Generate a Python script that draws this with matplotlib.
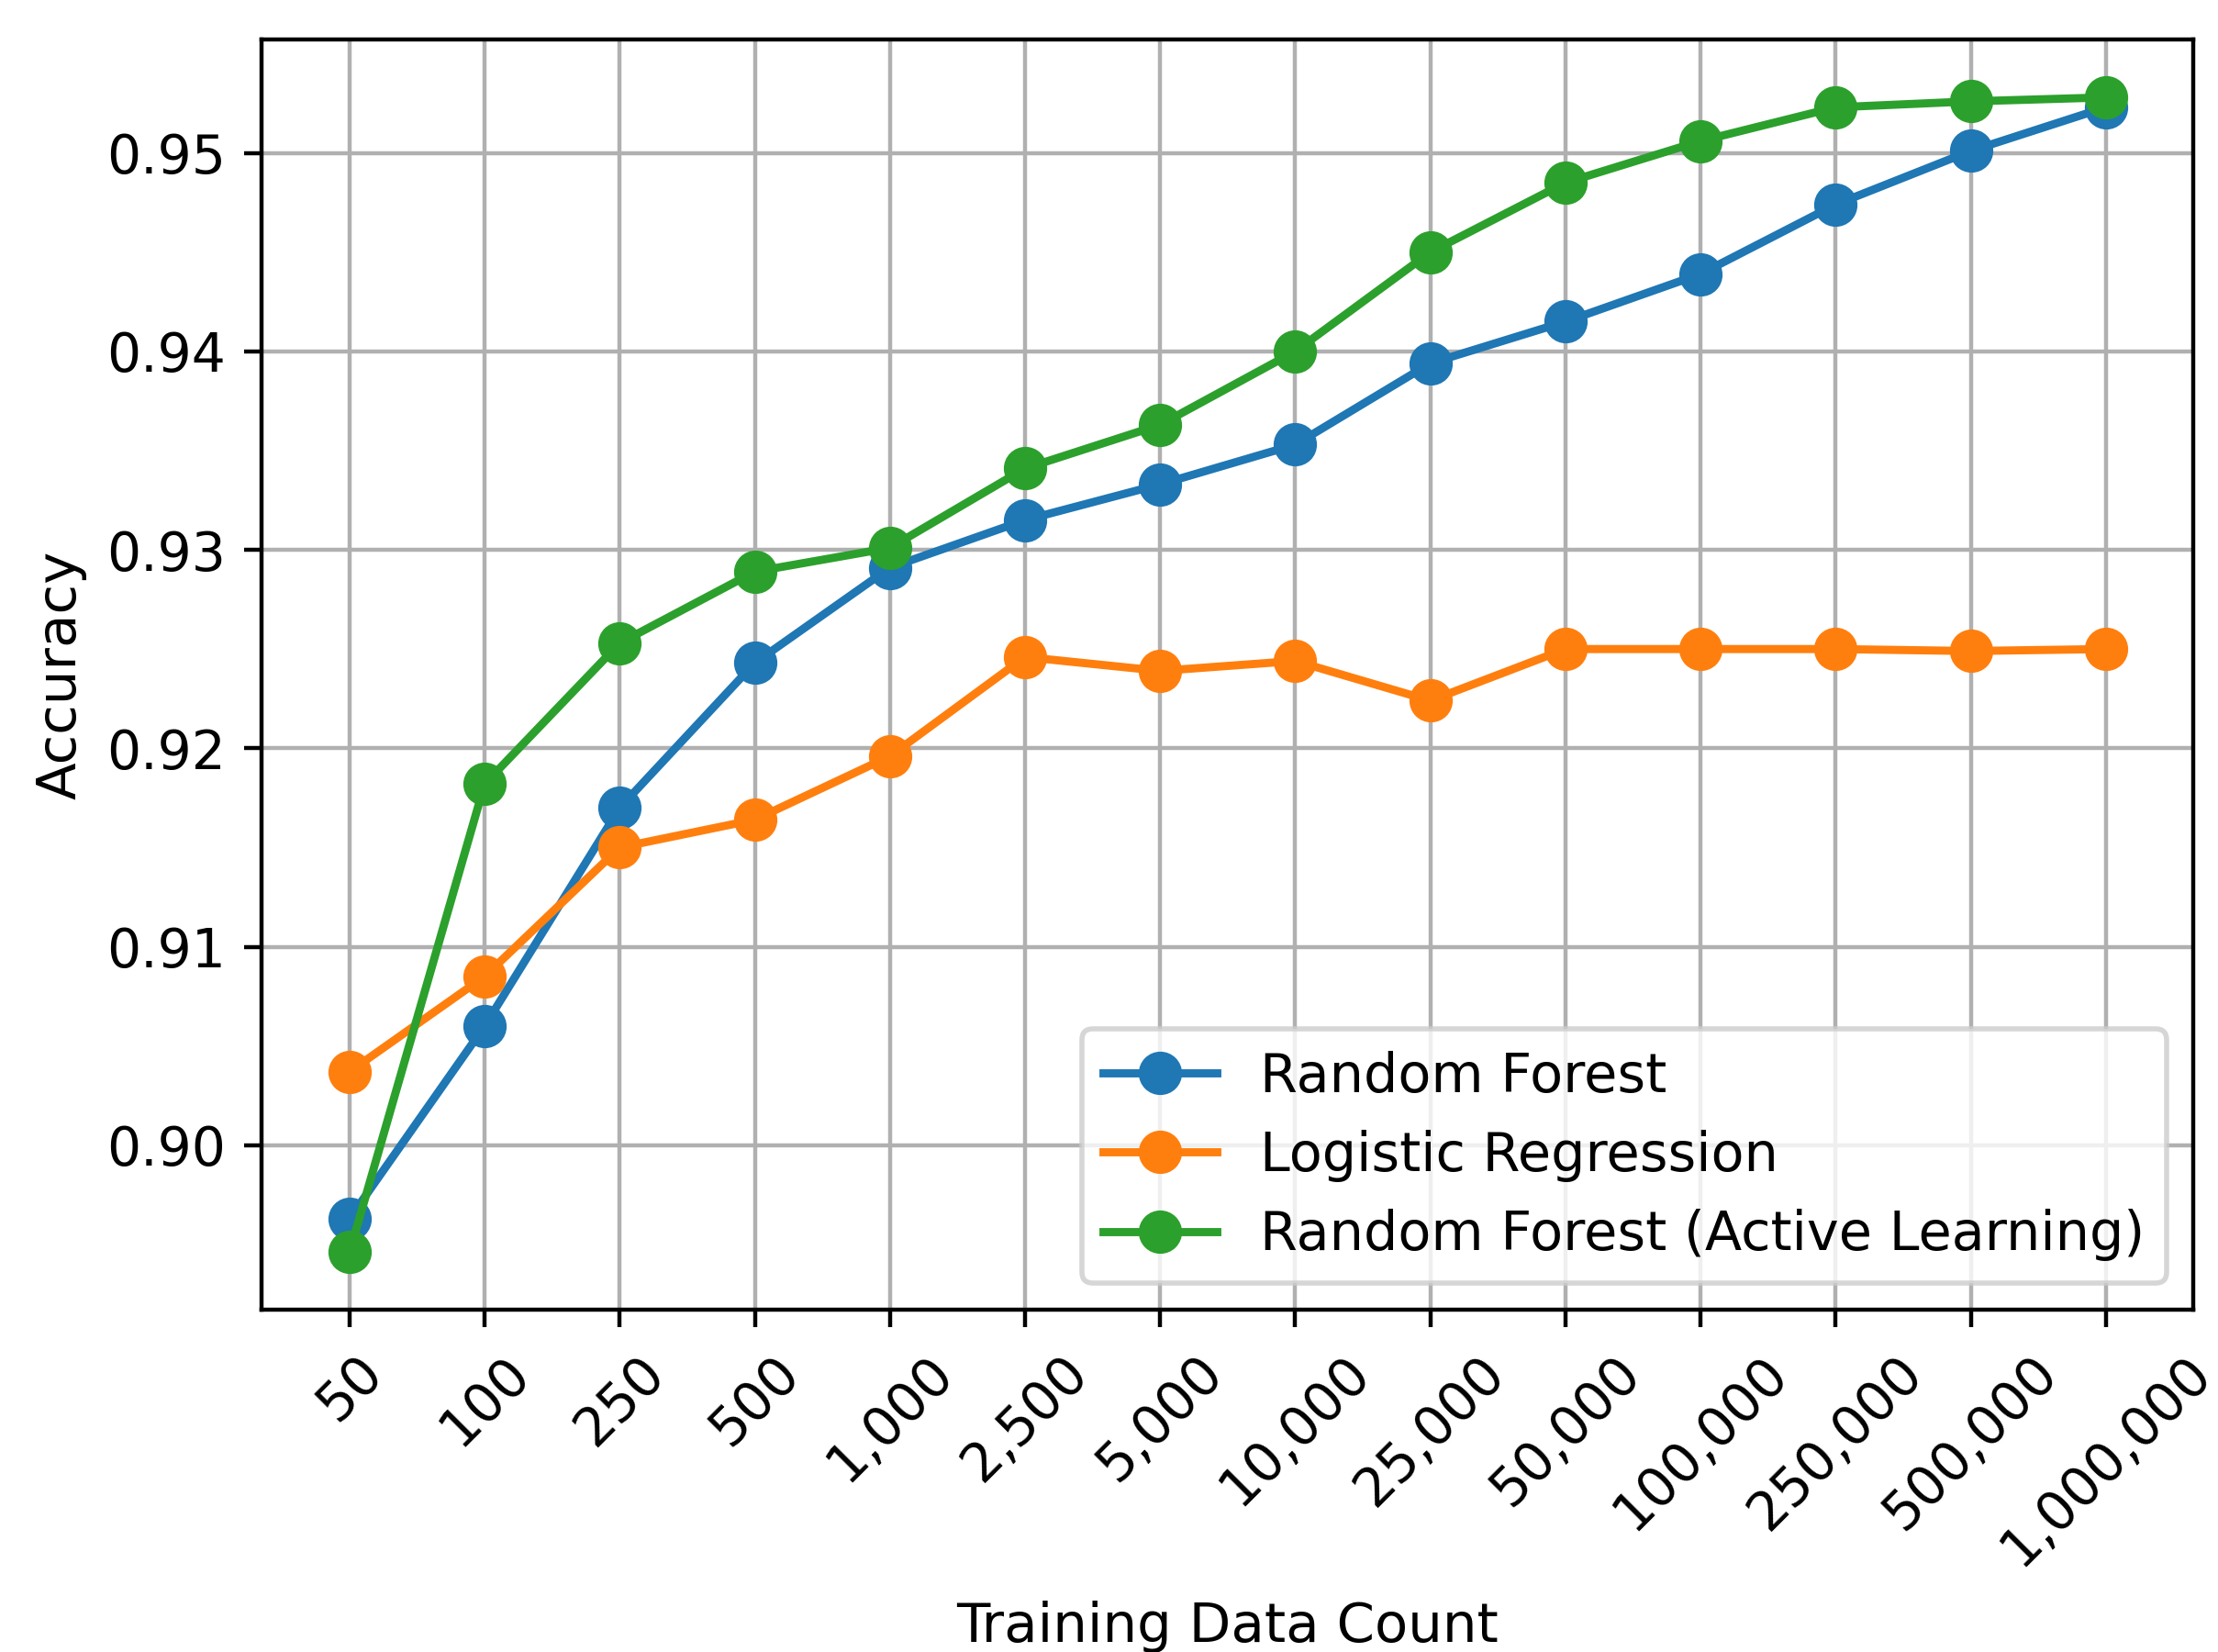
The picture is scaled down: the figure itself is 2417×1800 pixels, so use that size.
import matplotlib

matplotlib.use("Agg")
import matplotlib.pyplot as plt

# training set sizes (categorical x axis)
counts = [50, 100, 250, 500, 1000, 2500, 5000, 10000, 25000, 50000,
          100000, 250000, 500000, 1000000]

random_forest = [0.8963, 0.9060, 0.9170, 0.9243, 0.9291, 0.9315, 0.9333,
                 0.9353, 0.9394, 0.9415, 0.9439, 0.9474, 0.9501, 0.9523]
logistic_regression = [0.9037, 0.9085, 0.9150, 0.9164, 0.9196, 0.9246, 0.9239,
                       0.9244, 0.9224, 0.9250, 0.9250, 0.9250, 0.9249, 0.9250]
rf_active = [0.8946, 0.9182, 0.9253, 0.9289, 0.9301, 0.9341, 0.9363,
             0.9400, 0.9450, 0.9485, 0.9506, 0.9523, 0.9526, 0.9528]

labels = ["Random Forest", "Logistic Regression", "Random Forest (Active Learning)"]
tick_labels = [f"{c:,}" for c in counts]

fig = plt.figure(figsize=(2417 / 400, 1800 / 400), dpi=400)
ax = fig.add_axes([0.118, 0.207, 0.871, 0.769])

x = list(range(len(counts)))
for series, label in zip([random_forest, logistic_regression, rf_active], labels):
    ax.plot(x, series, marker="o", markersize=7.5, linewidth=1.6, label=label)

ax.set_xticks(x)
ax.set_xticklabels(tick_labels, rotation=45, fontsize=10.5)
ax.tick_params(axis="y", labelsize=10.5)
ax.set_yticks([0.90, 0.91, 0.92, 0.93, 0.94, 0.95])
ax.grid(True)
ax.set_xlabel("Training Data Count", fontsize=10.7, labelpad=5)
ax.set_ylabel("Accuracy", fontsize=10.7)
ax.legend(loc="lower right", fontsize=10.6, handlelength=2.1)

fig.savefig("out.png", dpi=400)
plt.close(fig)
